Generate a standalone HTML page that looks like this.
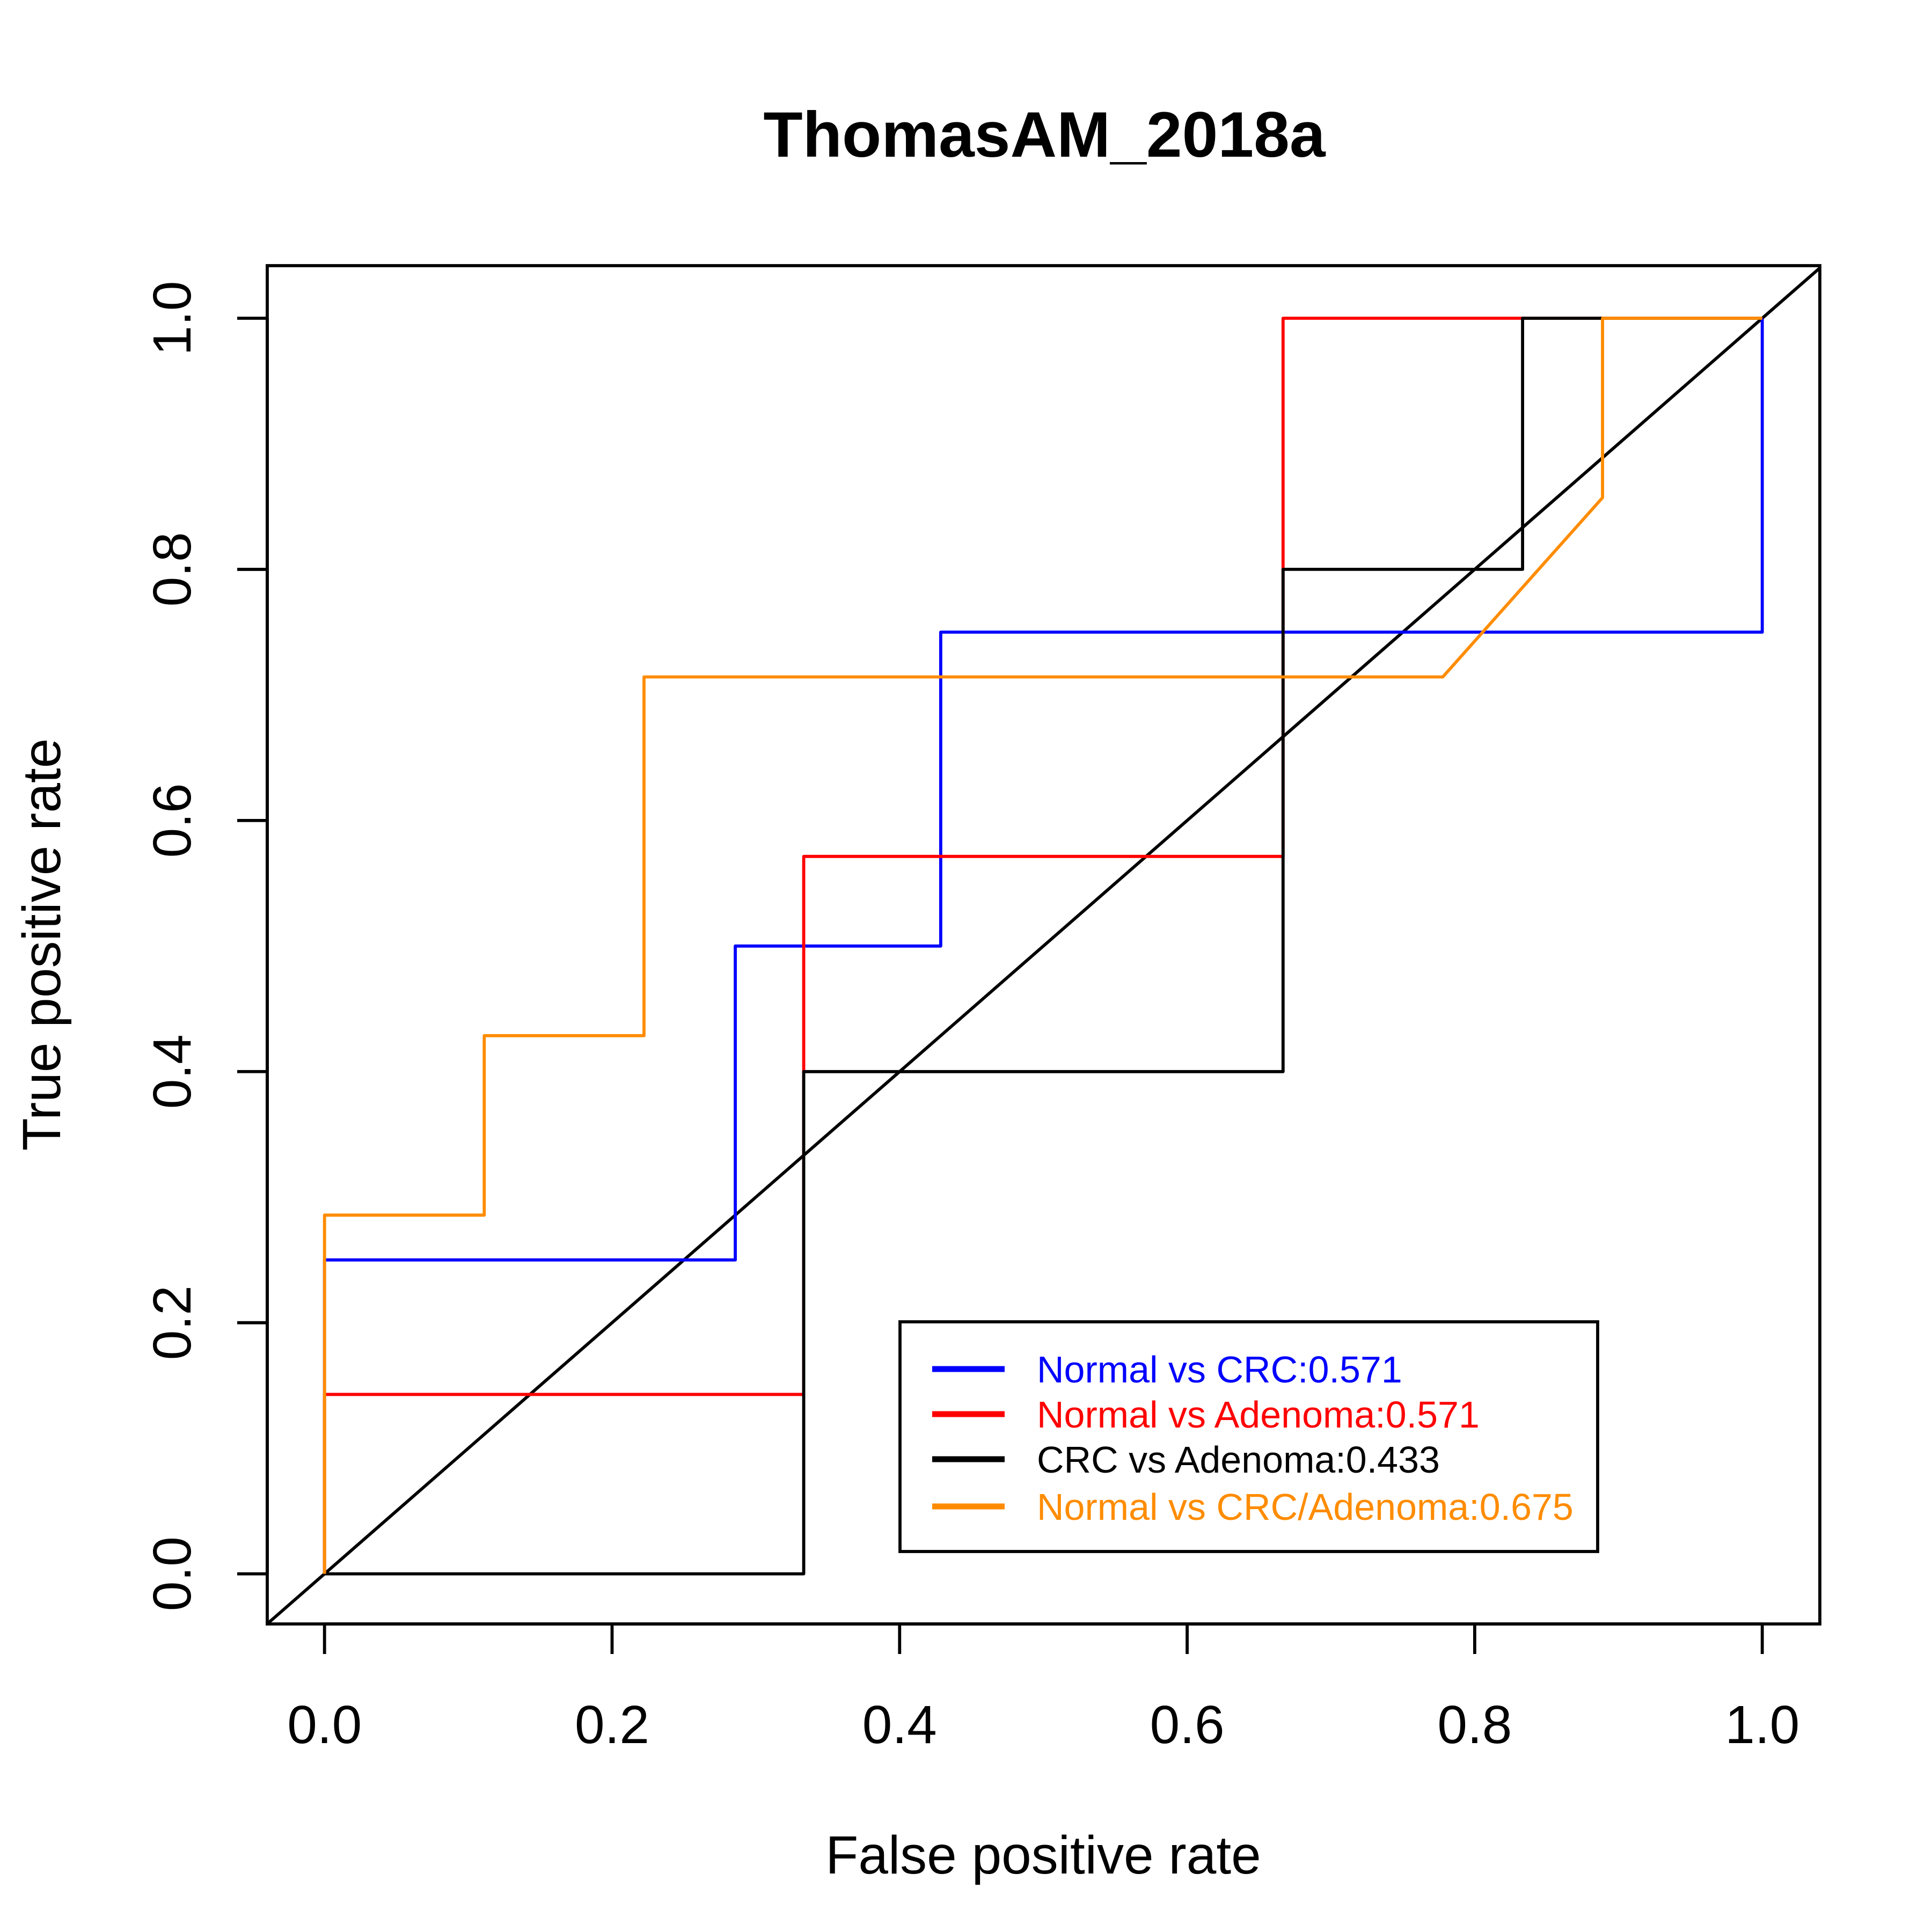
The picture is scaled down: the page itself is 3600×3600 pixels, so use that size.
<!DOCTYPE html>
<html><head><meta charset="utf-8"><style>
html,body{margin:0;padding:0;background:#fff}
svg{display:block}
text{font-family:"Liberation Sans",Arial,sans-serif}
</style></head>
<body>
<svg id="chart" width="3600" height="3600" viewBox="0 0 3600 3600" xmlns="http://www.w3.org/2000/svg">
<rect width="3600" height="3600" fill="#fff"/>
<text x="1946" y="292" font-size="120" font-weight="bold" text-anchor="middle">ThomasAM_2018a</text>
<g id="plot"></g>
</svg>
<script>
const ticks = [0, 0.2, 0.4, 0.6, 0.8, 1.0];
const tickLabels = ["0.0", "0.2", "0.4", "0.6", "0.8", "1.0"];
const seriesNames = ["Normal vs CRC:0.571", "Normal vs Adenoma:0.571", "CRC vs Adenoma:0.433", "Normal vs CRC/Adenoma:0.675"];
const seriesColors = ["#0000ff", "#ff0000", "#000000", "#ff8c00"];
const blueX = [0, 0, 0.2857, 0.2857, 0.4286, 0.4286, 1, 1];
const blueY = [0, 0.25, 0.25, 0.5, 0.5, 0.75, 0.75, 1];
const redX = [0, 0, 0.3333, 0.3333, 0.6667, 0.6667, 1];
const redY = [0, 0.1429, 0.1429, 0.5714, 0.5714, 1, 1];
const blackX = [0, 0.3333, 0.3333, 0.6667, 0.6667, 0.8333, 0.8333, 1];
const blackY = [0, 0, 0.4, 0.4, 0.8, 0.8, 1, 1];
const orangeX = [0, 0, 0.1111, 0.1111, 0.2222, 0.2222, 0.7778, 0.8889, 0.8889, 1];
const orangeY = [0, 0.2857, 0.2857, 0.4286, 0.4286, 0.7143, 0.7143, 0.8571, 1, 1];

const L = 498, R = 3391, T = 495, B = 3026;
const X0 = 604.7, X1 = 3283.7, Y0 = 2932.6, Y1 = 593.0;
const sx = v => X0 + v * (X1 - X0);
const sy = v => Y0 + v * (Y1 - Y0);
const NS = "http://www.w3.org/2000/svg";
const g = document.getElementById("plot");
function mk(tag, attrs, parent) {
  const e = document.createElementNS(NS, tag);
  for (const k in attrs) e.setAttribute(k, attrs[k]);
  (parent || g).appendChild(e);
  return e;
}
const LW = 5.8;
const defs = mk("defs", {});
const cp = mk("clipPath", {id: "clip"}, defs);
mk("rect", {x: L, y: T, width: R - L, height: B - T}, cp);

const diag = mk("line", {x1: sx(-0.04), y1: sy(-0.04), x2: sx(1.04), y2: sy(1.04), stroke: "#000", "stroke-width": LW, "clip-path": "url(#clip)"});



const allX = [blueX, redX, blackX, orangeX];
const allY = [blueY, redY, blackY, orangeY];
const keys = ["normal-vs-crc", "normal-vs-adenoma", "crc-vs-adenoma", "normal-vs-crc-adenoma"];
for (let s = 0; s < 4; s++) {
  const pts = allX[s].map((x, i) => sx(x).toFixed(1) + "," + sy(allY[s][i]).toFixed(1)).join(" ");
  const pl = mk("polyline", {points: pts, fill: "none", stroke: seriesColors[s], "stroke-width": LW, "stroke-linejoin": "round"});
  
  
}

const box = mk("rect", {x: L, y: T, width: R - L, height: B - T, fill: "none", stroke: "#000", "stroke-width": LW});



const xa = mk("g", {});


mk("line", {x1: sx(0), y1: B, x2: sx(1), y2: B, stroke: "#000", "stroke-width": LW}, xa);
ticks.forEach((t, i) => {
  mk("line", {x1: sx(t), y1: B, x2: sx(t), y2: B + 56, stroke: "#000", "stroke-width": LW}, xa);
  const tx = mk("text", {x: sx(t), y: 3248, "font-size": 100, "text-anchor": "middle"}, xa);
  tx.textContent = tickLabels[i];
  
  
});
const ya = mk("g", {});


mk("line", {x1: L, y1: sy(0), x2: L, y2: sy(1), stroke: "#000", "stroke-width": LW}, ya);
ticks.forEach((t, i) => {
  mk("line", {x1: L, y1: sy(t), x2: L - 56, y2: sy(t), stroke: "#000", "stroke-width": LW}, ya);
  const tx = mk("text", {x: 355, y: sy(t), "font-size": 100, "text-anchor": "middle", transform: `rotate(-90 355 ${sy(t)})`}, ya);
  tx.textContent = tickLabels[i];
  
  
});
const xt = mk("text", {x: 1944, y: 3491, "font-size": 100, "text-anchor": "middle"});
xt.textContent = "False positive rate";


const yt = mk("text", {x: 112, y: 1760, "font-size": 100, "text-anchor": "middle", transform: "rotate(-90 112 1760)"});
yt.textContent = "True positive rate";



const lg = mk("g", {});


mk("rect", {x: 1677, y: 2463, width: 1300, height: 428, fill: "#fff", stroke: "#000", "stroke-width": LW}, lg);
const rowY = [2551, 2635, 2719, 2807];
seriesNames.forEach((n, i) => {
  const e = mk("g", {}, lg);
  
  
  mk("line", {x1: 1737, y1: rowY[i], x2: 1872, y2: rowY[i], stroke: seriesColors[i], "stroke-width": 11}, e);
  const t = mk("text", {x: 1932, y: rowY[i] + 25, "font-size": 70, fill: seriesColors[i]}, e);
  t.textContent = n;
});
</script>
</body></html>
